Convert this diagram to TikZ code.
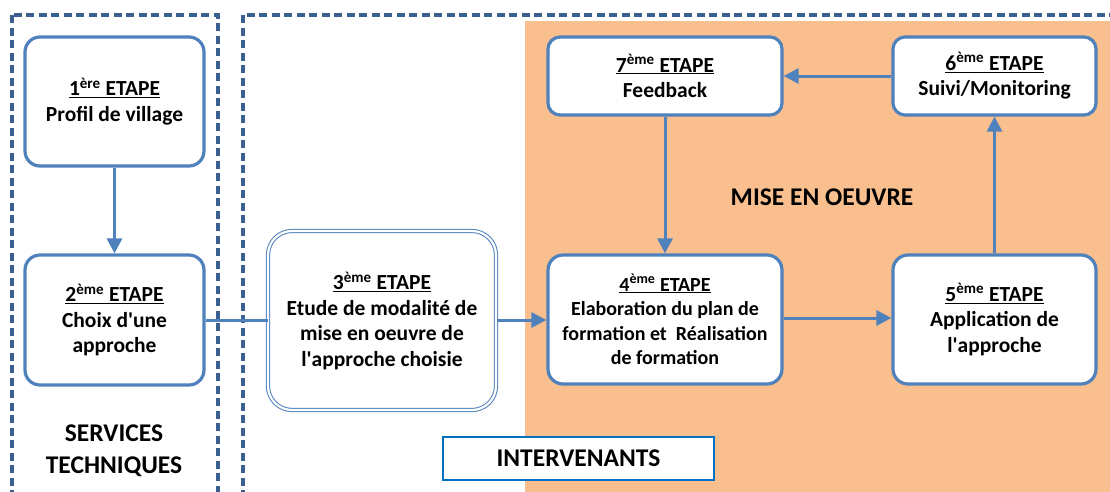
\documentclass[tikz,border=0pt]{standalone}
\usepackage{fontspec}
\setmainfont{Carlito}
\usetikzlibrary{arrows.meta}
\definecolor{boxblue}{RGB}{79,129,189}
\definecolor{dashblue}{RGB}{58,96,143}
\definecolor{orangebg}{RGB}{250,191,143}
\definecolor{intblue}{RGB}{0,112,192}
\newcommand{\etape}[2]{\underline{#1\textsuperscript{#2} ETAPE}}
\newcommand{\apos}{\textquotesingle}
\begin{document}
\begin{tikzpicture}[x=1pt,y=-1pt,
  stepbox/.style={draw=boxblue, line width=3.2pt, rounded corners=15pt, fill=white,
    align=center, inner sep=0pt, font=\bfseries\fontsize{21.5}{25.5}\selectfont},
  smallstep/.style={stepbox, font=\bfseries\fontsize{20}{24.5}\selectfont},
  dblbox/.style={stepbox, line width=1pt, double=white, double distance=2.2pt, rounded corners=24pt},
  conn/.style={draw=boxblue, line width=3pt, -{Triangle[length=15pt,width=15pt]}},
  plainconn/.style={draw=boxblue, line width=3pt},
  zone/.style={draw=dashblue, line width=3.2pt, dash pattern=on 8pt off 4.5pt},
  lbl/.style={align=center, font=\bfseries\fontsize{25.5}{32}\selectfont}
]
\useasboundingbox (0,0) rectangle (1110,491);
\begin{scope}
  \clip (0,0) rectangle (1110,491);
  \fill[orangebg] (525,21) rectangle (1115,500);
  \draw[zone] (12,15) rectangle (218,520);
  \draw[zone] (243,15) rectangle (1125,520);
\end{scope}

\node[stepbox, minimum width=179pt, minimum height=129pt] (s1) at (114.5,101.5)
  {\etape{1}{ère}\\Profil de village};
\node[stepbox, minimum width=179pt, minimum height=130pt] (s2) at (114.5,320)
  {\etape{2}{ème}\\Choix d\apos une\\approche};
\node[dblbox, minimum width=228pt, minimum height=179pt] (s3) at (382,320.5)
  {\etape{3}{ème}\\Etude de modalité de\\mise en oeuvre de\\l\apos approche choisie};
\node[smallstep, minimum width=234pt, minimum height=129pt] (s4) at (665,319.5)
  {\etape{4}{ème}\\Elaboration du plan de\\formation et~ Réalisation\\de formation};
\node[stepbox, minimum width=203pt, minimum height=129pt] (s5) at (994.5,319.5)
  {\etape{5}{ème}\\Application de\\l\apos approche};
\node[stepbox, rounded corners=12pt, minimum width=203pt, minimum height=78pt] (s6) at (994.5,76)
  {\etape{6}{ème}\\Suivi/Monitoring};
\node[stepbox, rounded corners=12pt, minimum width=234pt, minimum height=78pt] (s7) at (665,76)
  {\etape{7}{ème}\\Feedback};

\node[lbl] (mise) at (822,197) {MISE EN OEUVRE};
\node[lbl] (serv) at (114,451) {SERVICES\\TECHNIQUES};
\node[draw=intblue, line width=2.5pt, fill=white, minimum width=271pt, minimum height=43pt,
  font=\bfseries\fontsize{25.5}{28}\selectfont] (inter) at (578.5,458.5) {INTERVENANTS};

\draw[conn] (s1) -- (s2);
\draw[plainconn] (s2.east |- 0,320) -- (s3.west |- 0,320);
\draw[conn] (s3.east |- 0,320) -- (s4.west |- 0,320);
\draw[conn] (s4.east |- 0,318) -- (s5.west |- 0,318);
\draw[conn] (s5) -- (s6);
\draw[conn] (s6) -- (s7);
\draw[conn] (s7) -- (s4);
\end{tikzpicture}
\end{document}
